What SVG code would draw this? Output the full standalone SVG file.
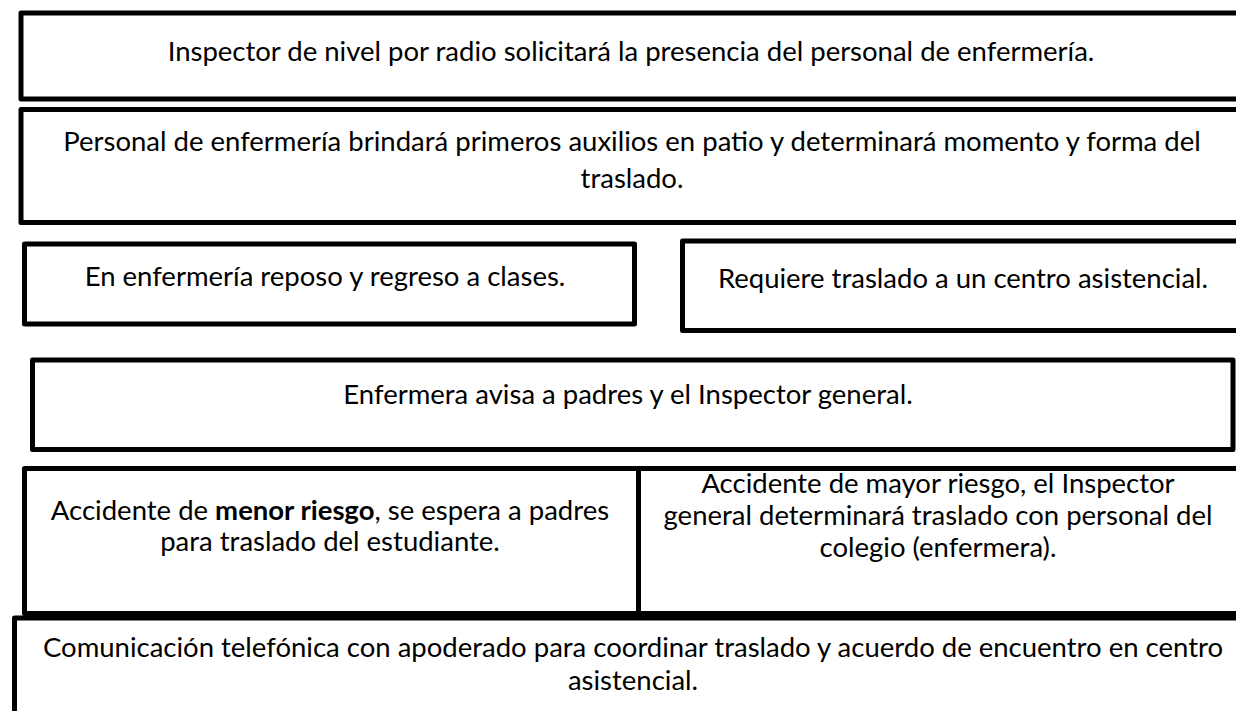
<svg xmlns="http://www.w3.org/2000/svg" width="1236" height="711" viewBox="0 0 1236 711">
<style>
.box{fill:#fff;stroke:#000;stroke-width:5;stroke-linejoin:round}
.t{font-family:Lato,"Open Sans","Liberation Sans",sans-serif;font-size:27.5px;fill:#000;text-anchor:middle}
.b{font-weight:bold}
</style>
<rect width="1236" height="711" fill="#fff"/>
<g id="connectors"></g>
<g id="n1"><rect class="box" x="21" y="13" width="1230" height="86"/>
<text class="t" x="631" y="61">Inspector de nivel por radio solicitará la presencia del personal de enfermería.</text></g>
<g id="n2"><rect class="box" x="21" y="109.5" width="1230" height="113"/>
<text class="t" x="632" y="151">Personal de enfermería brindará primeros auxilios en patio y determinará momento y forma del</text>
<text class="t" x="632" y="188">traslado.</text></g>
<g id="n3"><rect class="box" x="24.5" y="244" width="610" height="80"/>
<text class="t" x="325" y="286">En enfermería reposo y regreso a clases.</text></g>
<g id="n4"><rect class="box" x="682.5" y="241" width="570" height="89.5"/>
<text class="t" x="963" y="288">Requiere traslado a un centro asistencial.</text></g>
<g id="n5"><rect class="box" x="32.5" y="360" width="1200.5" height="89.5"/>
<text class="t" x="628" y="404">Enfermera avisa a padres y el Inspector general.</text></g>
<g id="n6"><rect class="box" x="24.5" y="468.5" width="614" height="145"/>
<text class="t" x="330" y="520">Accidente de <tspan class="b">menor riesgo</tspan>, se espera a padres</text>
<text class="t" x="330" y="551">para traslado del estudiante.</text></g>
<g id="n7"><rect class="box" x="638.5" y="468.5" width="612" height="145"/>
<text class="t" x="938" y="493">Accidente de mayor riesgo, el Inspector</text>
<text class="t" x="938" y="525">general determinará traslado con personal del</text>
<text class="t" x="938" y="557">colegio (enfermera).</text></g>
<g id="n8"><rect class="box" x="14.5" y="618" width="1240" height="110"/>
<text class="t" x="633" y="657">Comunicación telefónica con apoderado para coordinar traslado y acuerdo de encuentro en centro</text>
<text class="t" x="633" y="690">asistencial.</text></g>
</svg>
